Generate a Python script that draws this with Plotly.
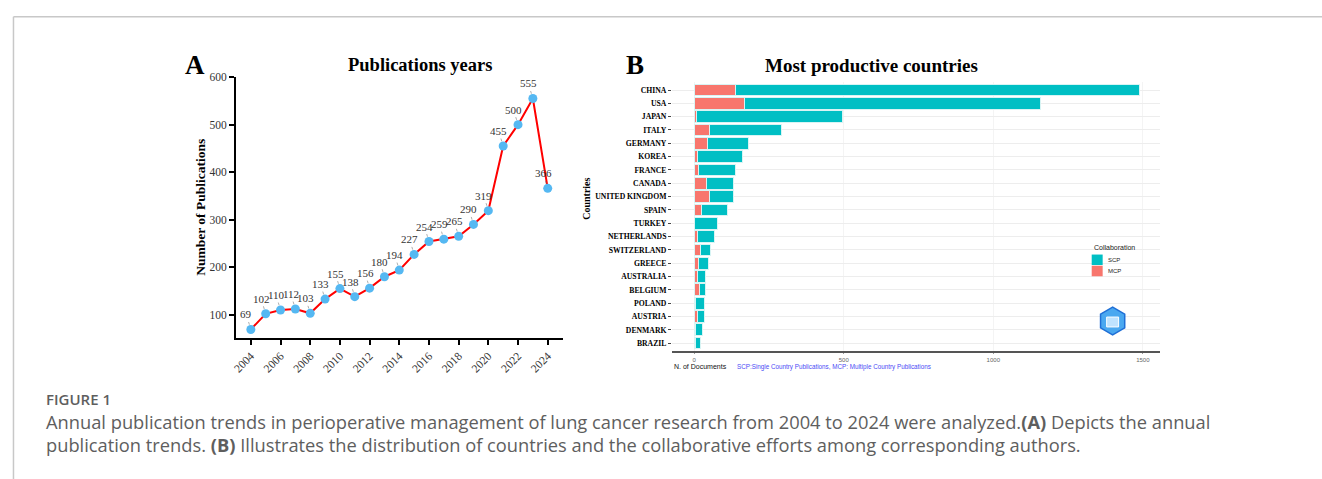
import math
import plotly.graph_objects as go

W, H = 1322, 479

# ---------------- data ----------------
years = list(range(2004, 2025))
publications = [69, 102, 110, 112, 103, 133, 155, 138, 156, 180, 194, 227,
                254, 259, 265, 290, 319, 455, 500, 555, 366]

countries = ["CHINA", "USA", "JAPAN", "ITALY", "GERMANY", "KOREA", "FRANCE",
             "CANADA", "UNITED KINGDOM", "SPAIN", "TURKEY", "NETHERLANDS",
             "SWITZERLAND", "GREECE", "AUSTRALIA", "BELGIUM", "POLAND",
             "AUSTRIA", "DENMARK", "BRAZIL"]
scp = [1352, 990, 489, 240, 135, 150, 121, 89, 80, 87, 76, 57, 32, 31, 27, 20, 32, 23, 23, 16]
mcp = [138, 167, 8, 51, 46, 10, 16, 42, 50, 26, 2, 12, 22, 16, 12, 18, 4, 12, 4, 6]

year_ticks = list(range(2004, 2025, 2))
pub_ticks = [100, 200, 300, 400, 500, 600]
doc_ticks = [0, 500, 1000, 1500]

SCP_COLOR = "#00BFC4"
MCP_COLOR = "#F8766D"


def fx(x):
    return x / W


def fy(y):
    return 1 - y / H


SERIF = "Liberation Serif, Times New Roman, serif"
SANS = "Liberation Sans, Arial, sans-serif"
CAP = "Open Sans, Lato, sans-serif"

fig = go.Figure()

# ---------- panel A ----------
fig.add_trace(go.Scatter(
    x=years, y=publications, mode="lines+markers",
    line=dict(color="#FF0000", width=2),
    marker=dict(color="#55B8F2", size=9),
    xaxis="x", yaxis="y", showlegend=False, hoverinfo="x+y"))

# ---------- panel B ----------
fig.add_trace(go.Bar(
    y=countries, x=mcp, orientation="h", name="MCP",
    marker=dict(color=MCP_COLOR, line=dict(color="#D8F4F4", width=1)),
    width=0.88, xaxis="x2", yaxis="y2", showlegend=False))
fig.add_trace(go.Bar(
    y=countries, x=scp, orientation="h", name="SCP",
    marker=dict(color=SCP_COLOR, line=dict(color="#D8F4F4", width=1)),
    width=0.88, xaxis="x2", yaxis="y2", showlegend=False))


def txt(x, y, text, size, family, color="#000", xanchor="center", angle=0, **kw):
    return dict(x=fx(x), y=fy(y), xref="paper", yref="paper", text=text,
                showarrow=False, xanchor=xanchor, yanchor="middle", textangle=angle,
                font=dict(family=family, size=size, color=color, **kw))


annotations = []
for yr, v in zip(years, publications):
    annotations.append(dict(
        x=yr, y=v, xref="x", yref="y", text=str(v), showarrow=True,
        ax=-4.5, ay=-15, arrowhead=0, arrowwidth=0.6, arrowcolor="#777",
        standoff=5, font=dict(family=SERIF, size=11, color="#333")))

annotations += [
    txt(192, 60, "<b>A</b>", 27, SERIF),
    txt(417.5, 60, "<b>Publications years</b>", 18.5, SERIF),
    txt(197, 204, "<b>Number of Publications</b>", 13.5, SERIF, angle=-90),
    txt(633, 60, "<b>B</b>", 27, SERIF),
    txt(870.5, 60, "<b>Most productive countries</b>", 19, SERIF),
    txt(584, 195, "<b>Countries</b>", 10, SERIF, angle=-90),
    txt(670, 365.5, "N. of Documents", 7, SANS, color="#111", xanchor="left"),
    txt(733, 365.5, "SCP:Single Country Publications, MCP: Multiple Country Publications",
        6.3, SANS, color="#4B4BF5", xanchor="left"),
    # legend
    txt(1091, 245, "Collaboration", 7, SANS, color="#222", xanchor="left"),
    txt(1105.5, 257, "SCP", 6, SANS, color="#222", xanchor="left"),
    txt(1105.5, 268.5, "MCP", 6, SANS, color="#222", xanchor="left"),
    # caption
    txt(40, 398, "FIGURE 1", 15, CAP, color="#5E5E5E", xanchor="left", weight=600),
    txt(40, 421,
        "Annual publication trends in perioperative management of lung cancer research from 2004 to 2024 were analyzed.<b>(A)</b> Depicts the annual",
        18.3, CAP, color="#5E5E5E", xanchor="left"),
    txt(40, 444,
        "publication trends. <b>(B)</b> Illustrates the distribution of countries and the collaborative efforts among corresponding authors.",
        18.3, CAP, color="#5E5E5E", xanchor="left"),
]

# hexagon logo
cx, cy, r = 1112, 319, 14
pts = []
for k in range(6):
    a = math.radians(90 + 60 * k)
    pts.append((fx(cx + r * math.cos(a)), fy(cy - r * math.sin(a))))
path = "M " + " L ".join(f"{x},{y}" for x, y in pts) + " Z"
shapes = [
    dict(type="path", path=path, xref="paper", yref="paper",
         fillcolor="#4AA8F0", line=dict(color="#1F6FD6", width=1.5)),
    dict(type="rect", xref="paper", yref="paper", x0=fx(cx - 6), x1=fx(cx + 6),
         y0=fy(cy + 6), y1=fy(cy - 4), fillcolor="#BFE3FF", line=dict(color="white", width=1)),
    # legend keys
    dict(type="rect", xref="paper", yref="paper", x0=fx(1091), x1=fx(1102),
         y0=fy(262.3), y1=fy(251.7), fillcolor=SCP_COLOR, line=dict(width=0)),
    dict(type="rect", xref="paper", yref="paper", x0=fx(1091), x1=fx(1102),
         y0=fy(273.7), y1=fy(263), fillcolor=MCP_COLOR, line=dict(width=0)),
    # frame
    dict(type="line", xref="paper", yref="paper", x0=fx(9.5), x1=1, y0=fy(11), y1=fy(11),
         line=dict(color="#C8C8C8", width=1.5)),
    dict(type="line", xref="paper", yref="paper", x0=fx(9.5), x1=fx(9.5), y0=fy(11), y1=0,
         line=dict(color="#C8C8C8", width=1.5)),
]

fig.update_layout(
    width=W, height=H, margin=dict(l=0, r=0, t=0, b=0),
    paper_bgcolor="white", plot_bgcolor="white",
    barmode="stack", bargap=0.1, showlegend=False,
    annotations=annotations, shapes=shapes,
    xaxis=dict(domain=[fx(232.7), fx(560.7)], range=[2003, 2025.03],
               tickvals=year_ticks, tickangle=-45, showgrid=False, zeroline=False,
               showline=True, linecolor="#000", linewidth=2, ticks="outside",
               ticklen=5, tickwidth=1.5, tickcolor="#000",
               tickfont=dict(family=SERIF, size=11.5, color="#333"), anchor="y"),
    yaxis=dict(domain=[fy(336), fy(72)], range=[51.5, 600], tickvals=pub_ticks,
               showgrid=False, zeroline=False, showline=True, linecolor="#000",
               linewidth=2, ticks="outside", ticklen=5, tickwidth=1.5, tickcolor="#000",
               tickfont=dict(family=SERIF, size=11.5, color="#333"), anchor="x"),
    xaxis2=dict(domain=[fx(670), fx(1160)], range=[-74.3, 1559], tickvals=doc_ticks,
                showgrid=True, gridcolor="#F4F4F4", gridwidth=1, zeroline=False,
                showline=True, linecolor="#555", linewidth=1.5, ticks="outside",
                ticklen=1.5, tickcolor="#999",
                tickfont=dict(family=SANS, size=6, color="#666"), anchor="y2"),
    yaxis2=dict(domain=[fy(349.5), fy(77)], categoryorder="array", categoryarray=countries,
                range=[19.6, -0.6], showgrid=True, gridcolor="#EDEDED", gridwidth=1,
                zeroline=False, showline=False, ticks="outside", ticklen=3,
                tickcolor="#444", tickfont=dict(family=SERIF, size=7.7, color="#000", weight="bold"),
                anchor="x2"),
)

fig.write_html("out.html", post_script="document.body.style.margin='0';")
